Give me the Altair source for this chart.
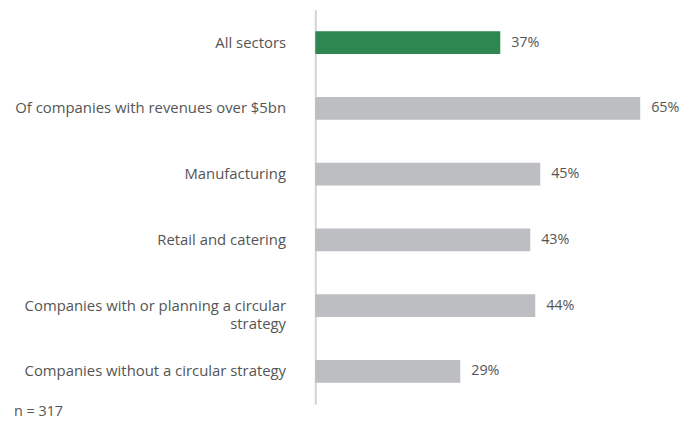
import altair as alt
import pandas as pd

categories = [
    "All sectors",
    "Of companies with revenues over $5bn",
    "Manufacturing",
    "Retail and catering",
    "Companies with or planning a circular strategy",
    "Companies without a circular strategy",
]
values = [37, 65, 45, 43, 44, 29]
groups = ["highlight", "other", "other", "other", "other", "other"]
note = "n = 317"

df = pd.DataFrame({"category": categories, "value": values, "group": groups})
df["label"] = df["value"].astype(str) + "%"

FONT = "Open Sans"
TEXT_COLOR = "#555555"

y_enc = alt.Y(
    "category:N",
    sort=categories,
    scale=alt.Scale(paddingInner=0, paddingOuter=0),
    axis=alt.Axis(
        title=None,
        ticks=False,
        domainColor="#d3d3d3",
        domainWidth=2,
        labelPadding=30,
        labelFont=FONT,
        labelFontSize=15,
        labelColor=TEXT_COLOR,
        labelLimit=400,
        labelLineHeight=19,
        labelExpr="datum.value == 'Companies with or planning a circular strategy' ? ['Companies with or planning a circular', 'strategy'] : datum.label",
    ),
)
x_enc = alt.X("value:Q", scale=alt.Scale(domain=[0, 70]), axis=None)

bars = alt.Chart(df).mark_bar(size=23).encode(
    y=y_enc,
    x=x_enc,
    color=alt.Color(
        "group:N",
        scale=alt.Scale(domain=["highlight", "other"], range=["#2e8650", "#bdbec2"]),
        legend=None,
    ),
)

labels = alt.Chart(df).mark_text(
    align="left", baseline="middle", dx=11, font=FONT, fontSize=14.5, color=TEXT_COLOR
).encode(y=alt.Y("category:N", sort=categories), x="value:Q", text="label:N")

note_df = pd.DataFrame({"t": [note]})
note_text = alt.Chart(note_df).mark_text(
    align="left", baseline="middle", font=FONT, fontSize=14.5, color=TEXT_COLOR
).encode(text="t:N", x=alt.value(-304), y=alt.value(406))

chart = (
    alt.layer(bars, labels, note_text)
    .properties(
        width=353,
        height=398,
        autosize=alt.AutoSizeParams(type="none"),
        padding={"left": 310, "top": 0, "right": 25, "bottom": 14},
    )
    .configure_view(stroke=None)
)

chart.save("out.html", embed_options={"renderer": "svg", "actions": False})
